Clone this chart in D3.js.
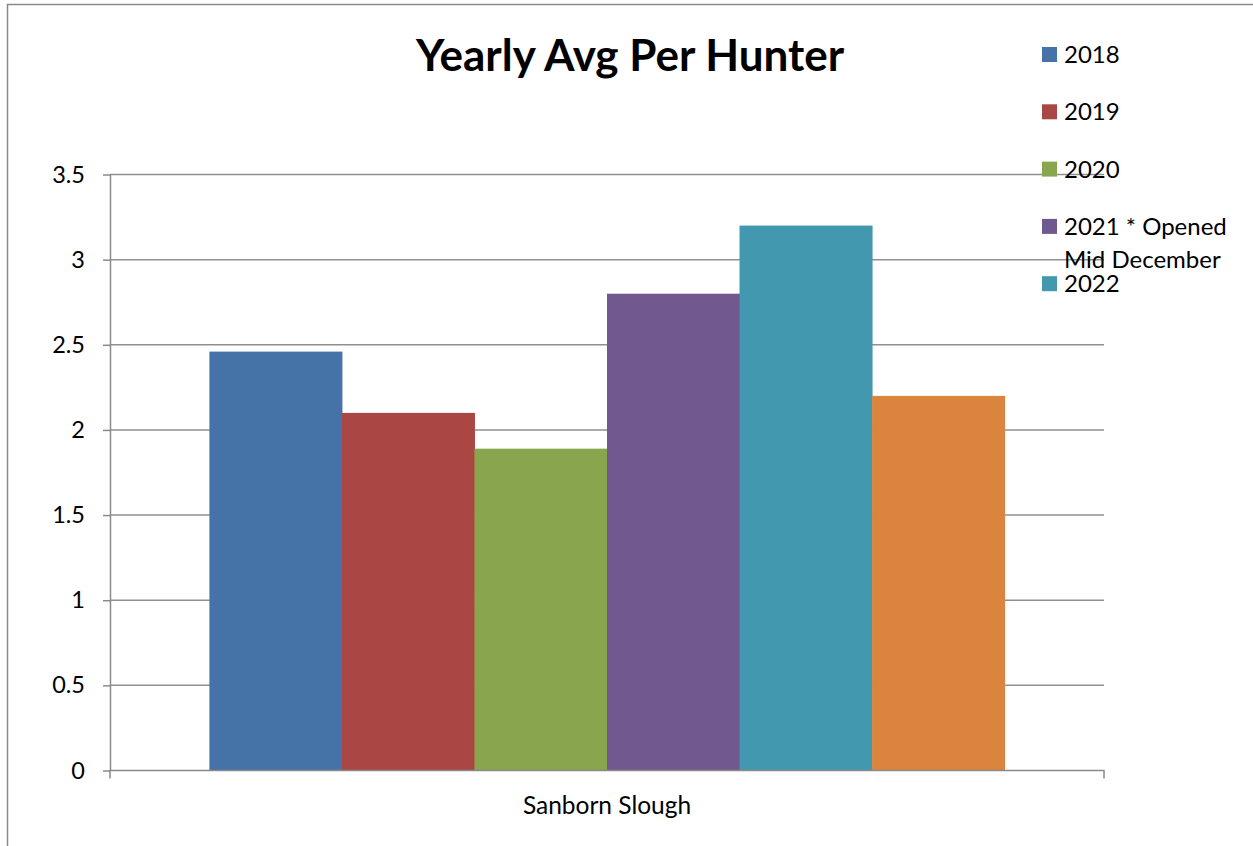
<!DOCTYPE html>
<html>
<head>
<meta charset="utf-8">
<script src="https://cdn.jsdelivr.net/npm/d3@7"></script>
<style>
  html, body { margin: 0; padding: 0; background: #fff; }
  svg { display: block; }
  text { font-family: Lato, "Open Sans", sans-serif; fill: #000; }
</style>
</head>
<body>
<svg id="chart" width="1253" height="846"></svg>
<script>
// ---- data ----
const title = "Yearly Avg Per Hunter";
const categories = ["Sanborn Slough"];
const seriesNames = ["2018", "2019", "2020", "2021 * Opened Mid December", "2022", ""];
const seriesValues = [2.46, 2.1, 1.89, 2.8, 3.2, 2.2];
const seriesColors = ["#4572A7", "#AA4643", "#89A54E", "#71588F", "#4198AF", "#DB843D"];
const legendLines = [["2018"], ["2019"], ["2020"], ["2021 * Opened", "Mid December"], ["2022"]];
const yTicks = [0, 0.5, 1, 1.5, 2, 2.5, 3, 3.5];

const svg = d3.select("#chart");

// outer frame (chart area border)
svg.append("path")
  .attr("d", "M7.5,846 L7.5,4.5 L1253,4.5")
  .attr("fill", "none").attr("stroke", "#8a8a8a").attr("stroke-width", 1.5);

const plot = { left: 110, right: 1104, top: 174.5, bottom: 770.5 };

const y = d3.scaleLinear().domain([0, 3.5]).range([plot.bottom, plot.top]);
const x0 = d3.scaleBand().domain(categories).range([plot.left, plot.right]).paddingInner(0).paddingOuter(0);
// Excel-style gap width 150%: bars occupy n/(n+1.5) of band
const n = seriesValues.length;
const groupW = x0.bandwidth() * n / (n + 1.5);
const x1 = d3.scaleBand().domain(d3.range(n))
  .range([x0(categories[0]) + (x0.bandwidth() - groupW) / 2, x0(categories[0]) + (x0.bandwidth() + groupW) / 2]);

// gridlines
svg.append("g").selectAll("line").data(yTicks.filter(d => d > 0)).join("line")
  .attr("x1", plot.left).attr("x2", plot.right)
  .attr("y1", d => y(d)).attr("y2", d => y(d))
  .attr("stroke", "#8f8f8f").attr("stroke-width", 1.5);

// bars
svg.append("g").selectAll("rect").data(seriesValues).join("rect")
  .attr("x", (d, i) => x1(i))
  .attr("width", x1.bandwidth() + 0.5)
  .attr("y", d => y(d))
  .attr("height", d => y(0) - y(d))
  .attr("fill", (d, i) => seriesColors[i]);

// y axis
const yAxis = d3.axisLeft(y).tickValues(yTicks).tickSize(7).tickPadding(18)
  .tickFormat(d => d3.format("")(d));
const gy = svg.append("g").attr("transform", `translate(${plot.left},0)`).call(yAxis);
gy.select(".domain").attr("stroke", "#8a8a8a").attr("stroke-width", 1.5).attr("d", `M0.5,${plot.top}V${plot.bottom}`);
gy.selectAll(".tick line").attr("stroke", "#8a8a8a").attr("stroke-width", 1.5);
gy.selectAll(".tick text").attr("font-size", 23.5).attr("font-family", "Lato, sans-serif").attr("fill", "#000");

// x axis
const xAxis = d3.axisBottom(x0).tickSize(0).tickPadding(26);
const gx = svg.append("g").attr("transform", `translate(0,${plot.bottom})`).call(xAxis);
gx.select(".domain").attr("stroke", "#8a8a8a").attr("stroke-width", 1.5)
  .attr("d", `M${plot.left},8V0H${plot.right}V8`);
gx.selectAll(".tick text").attr("font-size", 24.5).attr("font-family", "Lato, sans-serif").attr("fill", "#000");

// title
svg.append("text").attr("x", 630).attr("y", 71)
  .attr("text-anchor", "middle").attr("font-size", 44).attr("font-weight", "bold")
  .text(title);

// legend
const legendTop = 63, legendStep = 57.3;
const lg = svg.append("g");
legendLines.forEach((lines, i) => {
  const by = legendTop + i * legendStep;
  lg.append("rect").attr("x", 1042).attr("y", by - 16).attr("width", 15).attr("height", 15)
    .attr("fill", seriesColors[i]);
  lines.forEach((t, j) => {
    lg.append("text").attr("x", 1064).attr("y", by + j * 33.5)
      .attr("font-size", 24).text(t);
  });
});
</script>
</body>
</html>
